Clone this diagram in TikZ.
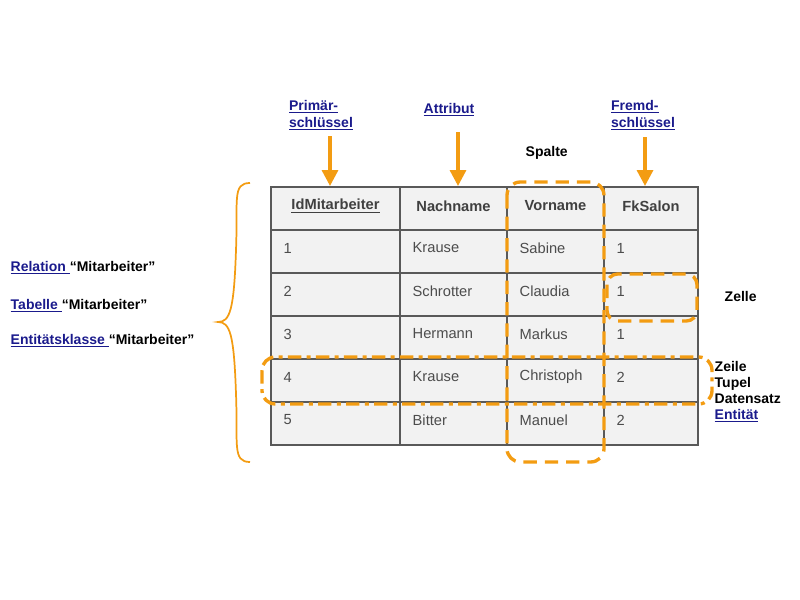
\documentclass[tikz,border=0pt]{standalone}
\usepackage{fontspec}
\setmainfont{Liberation Sans}
\begin{document}
\begin{tikzpicture}[x=0.75pt,y=-0.75pt,
  cell/.style={draw=gray!70!black,fill=black!5,line width=0.8pt},
  txt/.style={font=\fontsize{11}{13}\selectfont,text=black!70,anchor=west},
  hd/.style={font=\fontsize{11}{13}\selectfont\bfseries,text=black!75},
  lnk/.style={font=\fontsize{10.5}{13}\selectfont\bfseries,text=linkblue},
  lab/.style={font=\fontsize{10.5}{13}\selectfont\bfseries,anchor=west,align=left},
  hl/.style={draw=hlorange,line width=2.5pt},
  arr/.style={draw=hlorange,line width=2.5pt,-{Triangle[length=12pt,width=12pt]}}]
\definecolor{linkblue}{HTML}{1A1A8C}
\definecolor{hlorange}{HTML}{F39C12}
\usetikzlibrary{arrows.meta}
\useasboundingbox (0,0) rectangle (800,600);
% table
\foreach \xa/\xb in {271/400,400/507,507/604,604/698}{
 \foreach \ya in {187,230,273,316,359,402}{
  \draw[cell] (\xa,\ya) rectangle (\xb,\ya+43);}}
\node[hd] (h1) at (335.5,206) {\underline{IdMitarbeiter}};
\node[hd] (h2) at (453.5,206) {Nachname};
\node[hd] (h3) at (555.5,206) {Vorname};
\node[hd] (h4) at (651,206) {FkSalon};
\foreach \r/\a/\b/\c/\d in {0/1/Krause/Sabine/1,1/2/Schrotter/Claudia/1,2/3/Hermann/Markus/1,3/4/Krause/Christoph/2,4/5/Bitter/Manuel/2}{
 \node[txt] at (279,248+43*\r) {\a};
 \node[txt] at (408,248+43*\r) {\b};
 \node[txt] at (515,248+43*\r) {\c};
 \node[txt] at (612,248+43*\r) {\d};}
% highlights
\draw[hl,dashed,dash pattern=on 10pt off 6pt,rounded corners=10pt] (507,182) rectangle (604,462);
\draw[hl,dashed,dash pattern=on 10pt off 6pt,rounded corners=8pt] (607,274) rectangle (697,321);
\draw[hl,dash pattern=on 10pt off 4pt on 3pt off 4pt,rounded corners=10pt] (262,357) rectangle (712,404);
% brace
\draw[hlorange,line width=1.3pt] (250,183) .. controls (232,183) and (238,200) .. (236,250) .. controls (234,310) and (230,322) .. (218,322)
  .. controls (230,322) and (234,334) .. (236,394) .. controls (238,444) and (232,462) .. (250,462);
% top labels and arrows
\node[lnk,align=left] (pk) at (321,115) {\underline{Primär-}\\\underline{schlüssel}};
\node[lnk] (at) at (449,110) {\underline{Attribut}};
\node[lnk,align=left] (fk) at (643,115) {\underline{Fremd-}\\\underline{schlüssel}};
\node[lab] (sp) at (521,153) {Spalte};
\coordinate (pka) at (330,136); \coordinate (pkb) at (330,186);
\coordinate (ata) at (458,132); \coordinate (atb) at (458,186);
\coordinate (fka) at (645,137); \coordinate (fkb) at (645,186);
\draw[arr] (pka) -- (pkb);
\draw[arr] (ata) -- (atb);
\draw[arr] (fka) -- (fkb);
% right labels
\node[lab] (ze) at (720,296) {Zelle};
\node[lab,align=left] (zl) at (710,392) {Zeile\\[-1pt]Tupel\\[-1pt]Datensatz\\[-1pt]\textcolor{linkblue}{\underline{Entität}}};
% left labels
\node[lab] (rel) at (6,268) {\textcolor{linkblue}{\underline{Relation }}“Mitarbeiter”};
\node[lab] (tab) at (6,306) {\textcolor{linkblue}{\underline{Tabelle }}“Mitarbeiter”};
\node[lab] (ent) at (6,341) {\textcolor{linkblue}{\underline{Entitätsklasse }}“Mitarbeiter”};
\end{tikzpicture}
\end{document}
